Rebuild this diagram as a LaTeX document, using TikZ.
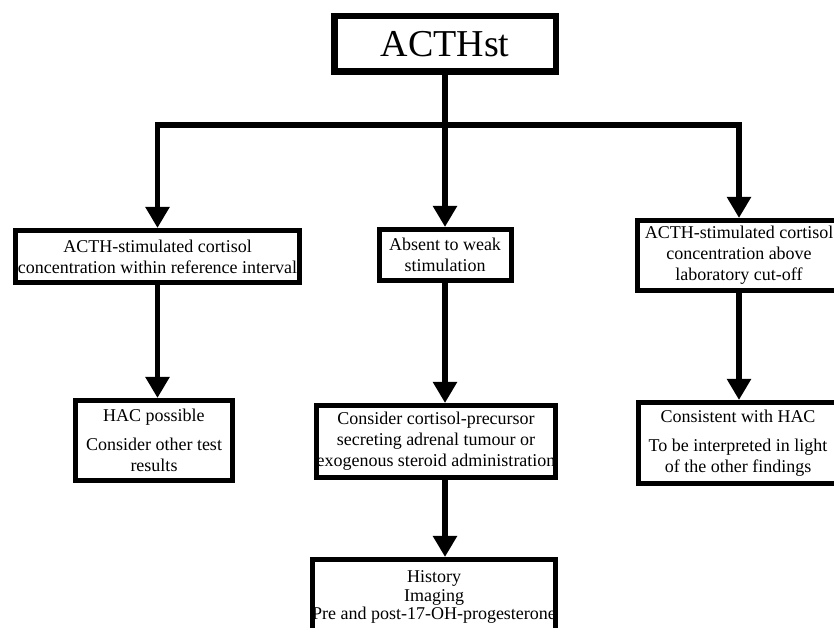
\documentclass[tikz,border=0pt]{standalone}
\usepackage{fontspec}
\setmainfont{Liberation Serif}
\usetikzlibrary{arrows.meta}

\tikzset{
  box/.style={draw, line width=5pt, rectangle, align=center, inner sep=0pt,
    font=\fontsize{18}{21}\selectfont},
  link/.style={line width=5.5pt},
  arr/.style={link, -{Triangle[length=21pt,width=23pt]}}
}

\begin{document}
\begin{tikzpicture}[x=1pt,y=1pt]
\useasboundingbox (0,0) rectangle (834,628);
% Test
\node[box, line width=6.5pt, minimum width=221.5, minimum height=55.5,
  font=\fontsize{38}{40}\selectfont] (acth) at (445,584) {ACTHst};
% First outcomes
\node[box, minimum width=284, minimum height=52] (within) at (157.5,371.5)
  {ACTH-stimulated cortisol\\concentration within reference interval};
\node[box, minimum width=132, minimum height=51] (weak) at (445,373)
  {Absent to weak\\stimulation};
\node[box, minimum width=203, minimum height=70] (above) at (739,372.5)
  {ACTH-stimulated cortisol\\concentration above\\laboratory cut-off};
% Interpretation
\node[box, minimum width=157, minimum height=80] (possible) at (154,187.5)
  {HAC possible\\[8pt]Consider other test\\results};
\node[box, minimum width=238, minimum height=72] (precursor) at (436,186.5)
  {Consider cortisol-precursor\\secreting adrenal tumour or\\exogenous steroid administration};
\node[box, minimum width=199, minimum height=81] (consistent) at (738,185)
  {Consistent with HAC\\[8pt]To be interpreted in light\\of the other findings};
% Further work-up
\node[box, minimum width=233, minimum height=75, font=\fontsize{18}{18.5}\selectfont]
  (workup) at (434,31)
  {History\\Imaging\\Pre and post-17-OH-progesterone};
% Branches
\coordinate (split) at (445,503);
\draw[link] (acth.south) -- (split);
\draw[arr] (split) -| (within.north);
\draw[arr] (split) -| (above.north);
\draw[arr] (split) -- (weak.north);
\draw[arr] (within.south) -- (within.south |- possible.north);
\draw[arr] (weak.south) -- (weak.south |- precursor.north);
\draw[arr] (above.south) -- (above.south |- consistent.north);
\draw[arr] (weak.south |- precursor.south) -- (weak.south |- workup.north);
\end{tikzpicture}
\end{document}
